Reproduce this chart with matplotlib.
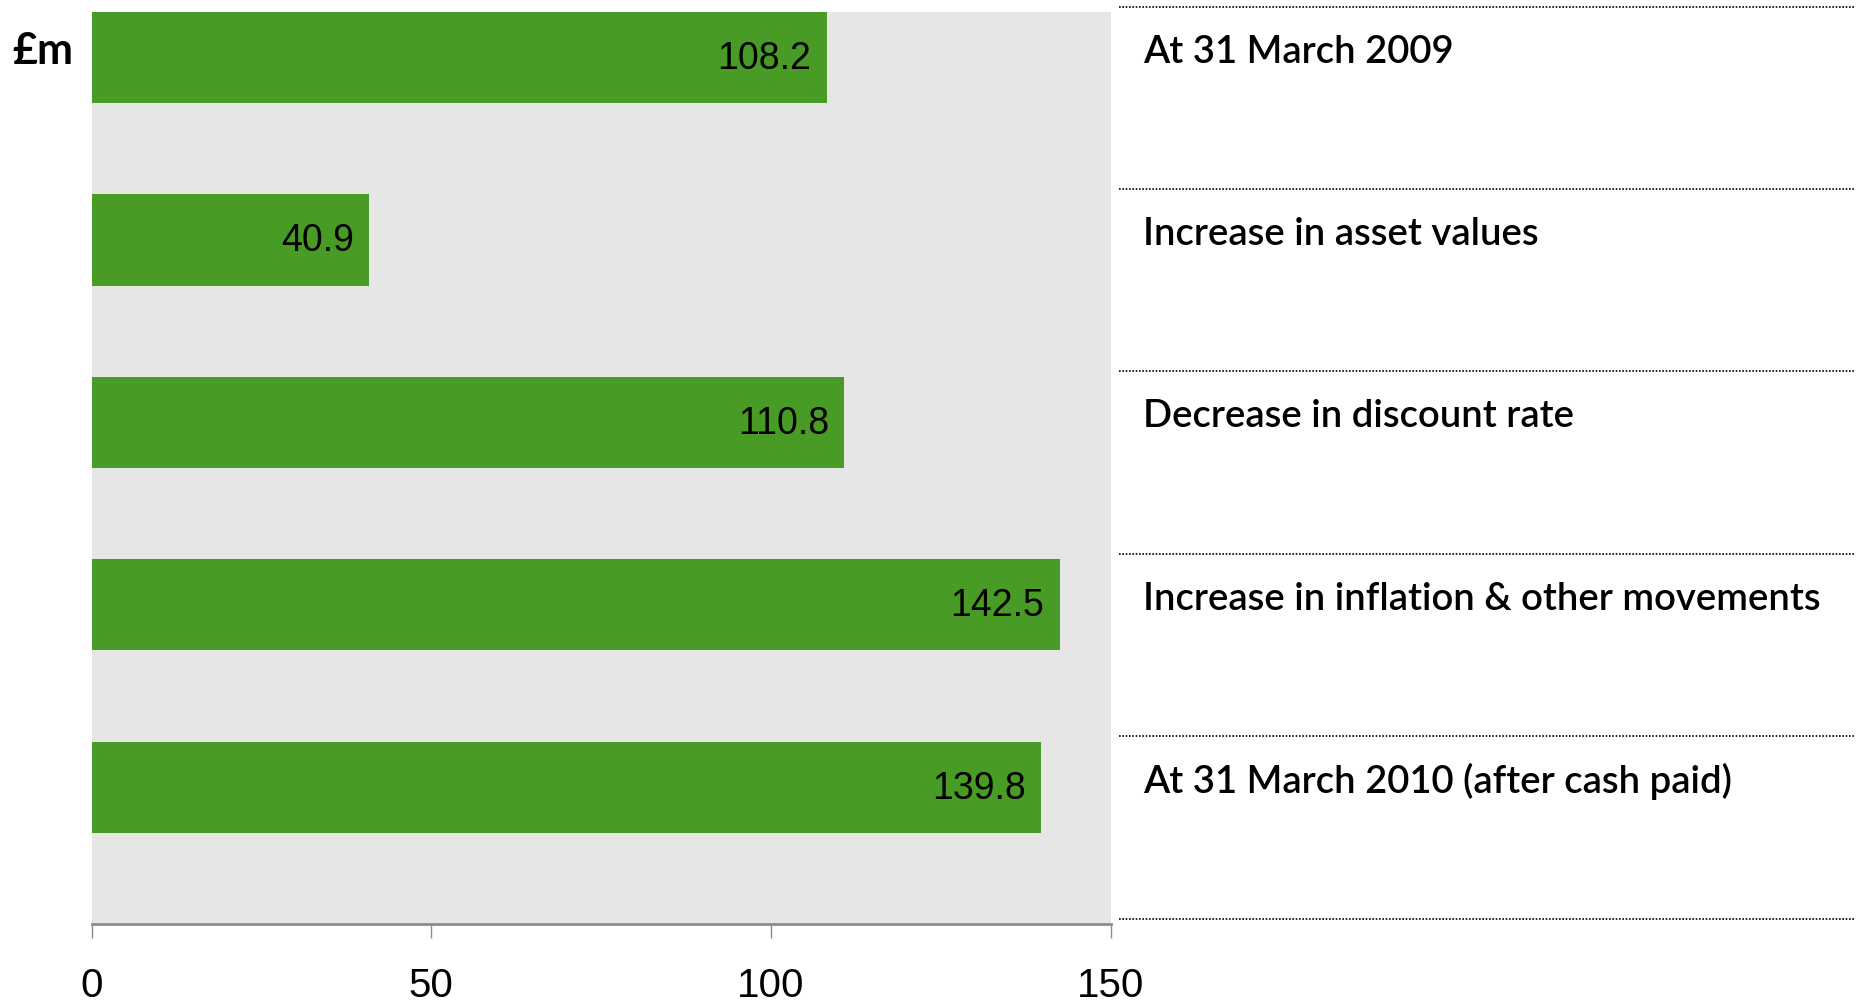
import matplotlib.pyplot as plt

categories = [
    "At 31 March 2009",
    "Increase in asset values",
    "Decrease in discount rate",
    "Increase in inflation & other movements",
    "At 31 March 2010 (after cash paid)",
]
values = [108.2, 40.9, 110.8, 142.5, 139.8]
x_ticks = [0, 50, 100, 150]

green = "#489B24"

fig = plt.figure(figsize=(18.64, 10.06), dpi=100)
ax = fig.add_axes([0.0491, 0.0815, 0.5467, 0.9065])
pos = list(range(len(values)))
ax.set_facecolor("#e6e6e6")
ax.barh(pos, values, height=0.5, color=green, zorder=2)
for p, v in zip(pos, values):
    ax.annotate(f"{v:.1f}", (v, p), xytext=(-11, -1), textcoords="offset points",
                ha="right", va="center", fontsize=27, family="Liberation Sans")
ax.set_xlim(0, 150)
ax.set_ylim(4.75, -0.25)
ax.set_xticks(x_ticks)
ax.set_xticklabels([str(t) for t in x_ticks], fontsize=29, family="Liberation Sans")
ax.set_yticks([])
for s in ["left", "right", "top"]:
    ax.spines[s].set_visible(False)
ax.spines["bottom"].set_color("#8c8c8c")
ax.spines["bottom"].set_linewidth(2)
ax.tick_params(axis="x", length=10, width=1, color="#8c8c8c", pad=21)
fig.text(0.0065, 0.949, "£m", fontsize=31, fontweight="bold", family="Lato", va="center")

# right-hand labels panel
rax = fig.add_axes([0.6003, 0.0815, 0.395, 0.9065], sharey=ax)
rax.set_xlim(0, 1)
rax.axis("off")
for i in range(len(categories) + 1):
    rax.plot([0, 1], [i - 0.28, i - 0.28], color="black", lw=1.2,
             linestyle=(0, (1, 1)), clip_on=False)
for p, name in zip(pos, categories):
    rax.text(0.033, p - 0.03, name, fontsize=27.5, family="Lato", fontweight="semibold",
             va="center", ha="left")

fig.savefig("out.png", dpi=100)
